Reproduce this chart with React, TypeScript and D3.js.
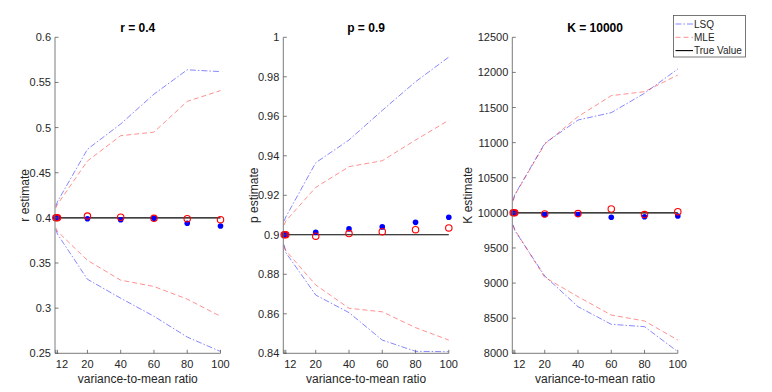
import React from 'react';
import * as d3 from 'd3';

// variance-to-mean ratios used in the simulation
const varRatio = [1, 2, 20, 40, 60, 80, 100];
const xTickValues = [1, 2, 20, 40, 60, 80, 100];

// r panel
const rLsqUpper = [0.413, 0.418, 0.476, 0.504, 0.537, 0.564, 0.562];
const rLsqLower = [0.387, 0.382, 0.332, 0.311, 0.291, 0.268, 0.252];
const rMleUpper = [0.411, 0.415, 0.463, 0.491, 0.495, 0.529, 0.541];
const rMleLower = [0.389, 0.385, 0.353, 0.331, 0.324, 0.31, 0.291];
const rLsqMean = [0.4, 0.4, 0.399, 0.398, 0.3995, 0.394, 0.391];
const rMleMean = [0.4, 0.4, 0.402, 0.4007, 0.3995, 0.399, 0.398];
const rTicks = [0.25, 0.3, 0.35, 0.4, 0.45, 0.5, 0.55, 0.6];

// p panel
const pLsqUpper = [0.907, 0.909, 0.9365, 0.948, 0.963, 0.9775, 0.99];
const pLsqLower = [0.895, 0.891, 0.8695, 0.8606, 0.8467, 0.841, 0.8408];
const pMleUpper = [0.905, 0.907, 0.924, 0.9345, 0.9375, 0.948, 0.958];
const pMleLower = [0.894, 0.892, 0.8746, 0.8628, 0.861, 0.853, 0.8467];
const pLsqMean = [0.9, 0.9, 0.9013, 0.903, 0.904, 0.9063, 0.9089];
const pMleMean = [0.9, 0.9, 0.8993, 0.9006, 0.9016, 0.9026, 0.9035];
const pTicks = [0.84, 0.86, 0.88, 0.9, 0.92, 0.94, 0.96, 0.98, 1];

// K panel
const kLsqUpper = [10180, 10260, 10990, 11322, 11427, 11703, 12049];
const kLsqLower = [9830, 9750, 9101, 8664, 8413, 8379, 8023];
const kMleUpper = [10170, 10250, 10980, 11370, 11669, 11726, 11963];
const kMleLower = [9820, 9760, 9082, 8806, 8545, 8460, 8189];
const kLsqMean = [10000, 10000, 9976, 9976, 9937, 9945, 9955];
const kMleMean = [10000, 10000, 9985, 9990, 10055, 9976, 10017];
const kTicks = [8000, 8500, 9000, 9500, 10000, 10500, 11000, 11500, 12000, 12500];

const panels = [
  { title: 'r = 0.4', ylabel: 'r estimate', truth: 0.4, domain: [0.25, 0.6], ticks: rTicks,
    lsqU: rLsqUpper, lsqL: rLsqLower, mleU: rMleUpper, mleL: rMleLower, lsqM: rLsqMean, mleM: rMleMean,
    left: 55, ylabX: 29 },
  { title: 'p = 0.9', ylabel: 'p estimate', truth: 0.9, domain: [0.84, 1], ticks: pTicks,
    lsqU: pLsqUpper, lsqL: pLsqLower, mleU: pMleUpper, mleL: pMleLower, lsqM: pLsqMean, mleM: pMleMean,
    left: 283.3, ylabX: 258 },
  { title: 'K = 10000', ylabel: 'K estimate', truth: 10000, domain: [8000, 12500], ticks: kTicks,
    lsqU: kLsqUpper, lsqL: kLsqLower, mleU: kMleUpper, mleL: kMleLower, lsqM: kLsqMean, mleM: kMleMean,
    left: 512.3, ylabX: 472 },
];

const W = 772;
const H = 392;
const top = 37.3;
const bottom = 353.3;
const plotW = 165.5;
const font = 'Liberation Sans, Arial, Helvetica, sans-serif';
const axisColor = '#5a5a5a';
const textColor = '#262626';
const blue = '#0000ff';
const red = '#ff0000';

const Panel = ({ p }: { p: typeof panels[number] }) => {
  const x = d3.scaleLinear().domain([0.5, 100]).range([p.left, p.left + plotW]);
  const y = d3.scaleLinear().domain(p.domain).range([bottom, top]);
  const line = d3.line<number>().x((_, i) => x(varRatio[i])).y(d => y(d));
  const fmt = (v: number) => String(+v.toFixed(4));
  const cx = p.left + plotW / 2;

  return (
    <g>
      <text x={cx} y={32} textAnchor="middle" fontWeight="bold" fontSize={12} fill="#000">{p.title}</text>

      {/* spread curves */}
      <path d={line(p.lsqU) || ''} fill="none" stroke={blue} strokeOpacity={0.6} strokeWidth={0.8} strokeDasharray="6,2,1.5,2" />
      <path d={line(p.lsqL) || ''} fill="none" stroke={blue} strokeOpacity={0.6} strokeWidth={0.8} strokeDasharray="6,2,1.5,2" />
      <path d={line(p.mleU) || ''} fill="none" stroke={red} strokeOpacity={0.55} strokeWidth={0.8} strokeDasharray="5,3" />
      <path d={line(p.mleL) || ''} fill="none" stroke={red} strokeOpacity={0.55} strokeWidth={0.8} strokeDasharray="5,3" />

      {/* true value */}
      <line x1={x(1)} x2={x(100)} y1={y(p.truth)} y2={y(p.truth)} stroke="#000" strokeWidth={1.1} />

      {/* mean estimates */}
      {p.lsqM.map((v, i) => (
        <circle key={'b' + i} cx={x(varRatio[i])} cy={y(v)} r={2.8} fill={blue} />
      ))}
      {p.mleM.map((v, i) => (
        <circle key={'r' + i} cx={x(varRatio[i])} cy={y(v)} r={3.2} fill="none" stroke={red} strokeWidth={1.1} />
      ))}

      {/* y axis */}
      <line x1={p.left} x2={p.left} y1={top} y2={bottom} stroke={axisColor} strokeWidth={0.8} />
      {p.ticks.map(t => (
        <g key={'yt' + t}>
          <line x1={p.left} x2={p.left + 3.5} y1={y(t)} y2={y(t)} stroke={axisColor} strokeWidth={0.8} />
          <text x={p.left - 4} y={y(t) + 4} textAnchor="end" fontSize={11} fill={textColor}>{fmt(t)}</text>
        </g>
      ))}
      <text transform={`translate(${p.ylabX},${(top + bottom) / 2}) rotate(-90)`} textAnchor="middle" fontSize={12} fill={textColor}>{p.ylabel}</text>

      {/* x axis */}
      <line x1={p.left} x2={p.left + plotW} y1={bottom} y2={bottom} stroke={axisColor} strokeWidth={0.8} />
      {xTickValues.map((t, i) => {
        const anchor = i === 0 ? 'end' : i === 1 ? 'start' : 'middle';
        const lx = i < 2 ? x(2) + 4.5 : x(t);
        return (
          <g key={'xt' + t}>
            <line x1={x(t)} x2={x(t)} y1={bottom} y2={bottom - 3.5} stroke={axisColor} strokeWidth={0.8} />
            <text x={lx} y={368} textAnchor={anchor} fontSize={11} fill={textColor}>{t}</text>
          </g>
        );
      })}
      <text x={cx} y={383} textAnchor="middle" fontSize={12} fill={textColor}>variance-to-mean ratio</text>
    </g>
  );
};

const legendItems = [
  { label: 'LSQ', color: blue, dash: '6,2,1.5,2', opacity: 0.6 },
  { label: 'MLE', color: red, dash: '5,3', opacity: 0.55 },
  { label: 'True Value', color: '#000', dash: '', opacity: 1 },
];

export default function App() {
  return (
    <div style={{ position: 'absolute', left: 0, top: 0, width: W, height: H, background: '#fff' }}>
      <svg width={W} height={H} fontFamily={font} style={{ display: 'block' }}>
        <rect width={W} height={H} fill="#fff" />
        {panels.map(p => <Panel key={p.title} p={p} />)}
        <g>
          <rect x={673.5} y={15.5} width={72} height={41.5} fill="#fff" stroke="#555" strokeWidth={0.8} />
          {legendItems.map((d, i) => (
            <g key={d.label} transform={`translate(0,${24 + i * 13.3})`}>
              <line x1={675.5} x2={693} y1={0} y2={0} stroke={d.color} strokeOpacity={d.opacity} strokeWidth={d.dash ? 0.8 : 1.1} strokeDasharray={d.dash || undefined} />
              <text x={694} y={3.8} fontSize={10} fill={textColor}>{d.label}</text>
            </g>
          ))}
        </g>
      </svg>
    </div>
  );
}
